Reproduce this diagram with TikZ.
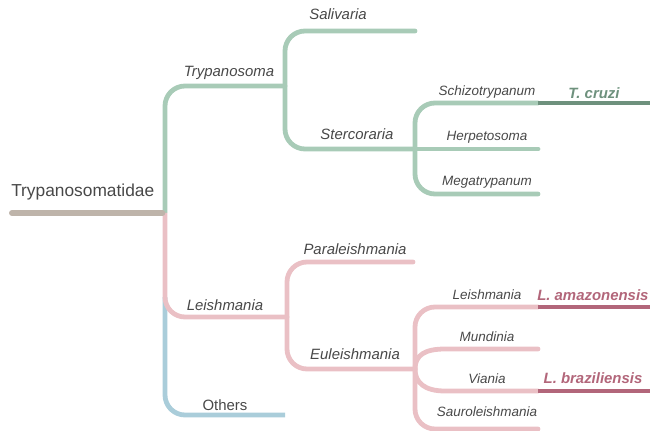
\documentclass[tikz,border=0pt]{standalone}
\usepackage{fontspec}
\setmainfont{Liberation Sans}
\definecolor{grn}{RGB}{168,203,183}
\definecolor{dgrn}{RGB}{110,145,125}
\definecolor{pnk}{RGB}{234,192,197}
\definecolor{dpnk}{RGB}{178,102,122}
\definecolor{blu}{RGB}{170,205,218}
\definecolor{rootc}{RGB}{190,180,170}
\definecolor{txt}{RGB}{72,72,72}
\tikzset{
  br/.style={line width=3.6pt, line cap=round, rounded corners=15pt},
  lvA/.style={font=\fontsize{11.2}{13}\selectfont\itshape, text=txt, inner sep=0pt},
  lvB/.style={font=\fontsize{10.1}{12}\selectfont\itshape, text=txt, inner sep=0pt},
  sp/.style={font=\fontsize{11.2}{13}\selectfont\bfseries\itshape, inner sep=0pt},
}
\begin{document}
\begin{tikzpicture}[x=0.75pt,y=-0.75pt]
\useasboundingbox (0,0) rectangle (650,431);
\clip (0,0) rectangle (650,431);
% coordinates
\coordinate (R0) at (12,213);
\coordinate (J0) at (165,213);
\coordinate (T1) at (285,86);
\coordinate (Sal) at (415,31);
\coordinate (T2) at (415,149);
\coordinate (Sch) at (538,103);
\coordinate (Her) at (538,149);
\coordinate (Meg) at (538,194);
\coordinate (TcE) at (652,103);
\coordinate (L1) at (287,317);
\coordinate (Par) at (413,262);
\coordinate (L2) at (415,369);
\coordinate (Lei) at (538,307);
\coordinate (Mun) at (538,349);
\coordinate (Via) at (538,391);
\coordinate (Sau) at (538,429);
\coordinate (LaE) at (652,307);
\coordinate (LbE) at (652,391);
\coordinate (OtS) at (165,297);
\coordinate (Oth) at (285,415);

% Others (blue)
\draw[br, blu, line cap=butt] (OtS) -- (OtS |- Oth) -- (Oth);
% Trypanosoma (green)
\draw[br, grn, line cap=butt] (J0) -- (J0 |- T1) -- (T1);
\draw[br, grn] (T1) -- (T1 |- Sal) -- (Sal);
\draw[br, grn] (T1) -- (T1 |- T2) -- (T2);
\draw[br, grn] (T2) -- (T2 |- Sch) -- (Sch);
\draw[br, grn] (T2) -- (Her);
\draw[br, grn] (T2) -- (T2 |- Meg) -- (Meg);
\draw[br, dgrn, line cap=butt] (Sch) -- (TcE);
% Leishmania (pink)
\draw[br, pnk, line cap=butt] (J0) -- (J0 |- L1) -- (L1);
\draw[br, pnk] (L1) -- (L1 |- Par) -- (Par);
\draw[br, pnk] (L1) -- (L1 |- L2) -- (L2);
\draw[br, pnk] (L2) -- (L2 |- Lei) -- (Lei);
\draw[br, pnk] (L2) -- (L2 |- Sau) -- (Sau);
\draw[br, pnk, rounded corners=0pt] (L2) .. controls (415,355) and (425,349) .. (445,349) -- (Mun);
\draw[br, pnk, rounded corners=0pt] (L2) .. controls (415,383) and (425,391) .. (445,391) -- (Via);
\draw[br, dpnk, line cap=butt] (Lei) -- (LaE);
\draw[br, dpnk, line cap=butt] (Via) -- (LbE);
% root
\draw[line width=4.5pt, rootc, line cap=round] (R0) -- ([xshift=-2pt]J0);

% labels
\node[anchor=west, font=\fontsize{13}{15}\selectfont, text=txt, inner sep=0pt] (nRoot) at (11,192) {Trypanosomatidae};
\node[lvA] (nTry) at (229,73) {Trypanosoma};
\node[lvA] (nSal) at (338,14) {Salivaria};
\node[lvA] (nSte) at (357,134) {Stercoraria};
\node[lvB] (nSch) at (487,92) {Schizotrypanum};
\node[lvB] (nHer) at (487,137) {Herpetosoma};
\node[lvB] (nMeg) at (487,182) {Megatrypanum};
\node[sp, text=dgrn] (nTc) at (594,93) {T. cruzi};
\node[lvA] (nLei) at (225,305) {Leishmania};
\node[lvA] (nPar) at (355,249) {Paraleishmania};
\node[lvA] (nEul) at (355,354) {Euleishmania};
\node[lvA, font=\fontsize{11.2}{13}\selectfont\upshape] (nOth) at (225,405) {Others};
\node[lvB] (nLeiS) at (487,295) {Leishmania};
\node[lvB] (nMun) at (487,337) {Mundinia};
\node[lvB] (nVia) at (487,379) {Viania};
\node[lvB] (nSau) at (487,412) {Sauroleishmania};
\node[sp, text=dpnk, anchor=west] (nLa) at (537,295) {L. amazonensis};
\node[sp, text=dpnk] (nLb) at (593,378) {L. braziliensis};
\end{tikzpicture}
\end{document}
